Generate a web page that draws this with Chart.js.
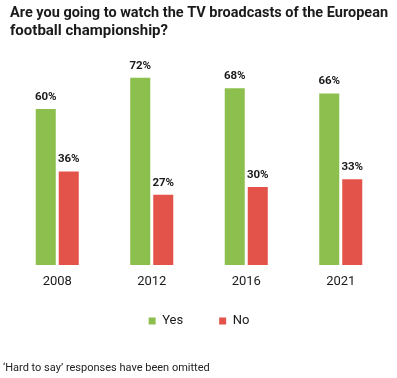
<!DOCTYPE html>
<html>
<head>
<meta charset="utf-8">
<script src="https://cdn.jsdelivr.net/npm/chart.js@4"></script>
<style>
  html, body { margin: 0; padding: 0; background: #ffffff; }
  #wrap { position: relative; width: 397px; height: 378px; }
  #note { position: absolute; left: 3px; top: 361px; font: 11px Roboto, sans-serif; color: #222; white-space: nowrap; }
</style>
</head>
<body>
<div id="wrap">
  <canvas id="c" width="397" height="378"></canvas>
  <div id="note">‘Hard to say’ responses have been omitted</div>
</div>
<script>
const titleLines = ['Are you going to watch the TV broadcasts of the European', 'football championship?'];
const categories = ['2008', '2012', '2016', '2021'];
const seriesNames = ['Yes', 'No'];
const yesValues = [60, 72, 68, 66];
const noValues = [36, 27, 30, 33];
const colors = ['#8DBF4E', '#E4534A'];

const valueLabels = {
  id: 'valueLabels',
  afterDatasetsDraw(chart) {
    const ctx = chart.ctx;
    ctx.save();
    ctx.font = 'bold 11.5px Roboto, sans-serif';
    ctx.fillStyle = '#1a1a1a';
    ctx.textAlign = 'center';
    ctx.textBaseline = 'middle';
    chart.data.datasets.forEach((ds, i) => {
      const meta = chart.getDatasetMeta(i);
      meta.data.forEach((el, j) => {
        ctx.fillText(ds.data[j] + '%', el.x, el.y - 12);
      });
    });
    ctx.restore();
  }
};

new Chart(document.getElementById('c'), {
  type: 'bar',
  data: {
    labels: categories,
    datasets: [
      { label: seriesNames[0], data: yesValues, backgroundColor: colors[0] },
      { label: seriesNames[1], data: noValues, backgroundColor: colors[1] }
    ]
  },
  options: {
    responsive: false,
    animation: false,
    devicePixelRatio: 1,
    layout: { padding: { left: 10, right: 9, top: 0, bottom: 40.5 } },
    datasets: { bar: { categoryPercentage: 0.487, barPercentage: 0.87 } },
    scales: {
      x: {
        grid: { display: false, drawTicks: false },
        border: { display: false },
        ticks: { color: '#1a1a1a', font: { family: 'Roboto', size: 13 }, padding: 9.2 }
      },
      y: {
        display: false,
        min: 0,
        max: 80
      }
    },
    plugins: {
      title: {
        display: true,
        text: titleLines,
        align: 'start',
        color: '#1a1a1a',
        font: { family: 'Roboto', size: 15, weight: 'bold', lineHeight: 1.15 },
        padding: { top: 5, bottom: 17.5 }
      },
      legend: {
        position: 'bottom',
        title: { display: true, text: '', font: { size: 10 }, padding: { top: -16, bottom: -16.5 } },
        labels: {
          boxWidth: 7,
          boxHeight: 7,
          color: '#1a1a1a',
          font: { family: 'Roboto', size: 13 },
          padding: 36
        }
      },
      tooltip: { enabled: false }
    }
  },
  plugins: [valueLabels]
});
</script>
</body>
</html>
